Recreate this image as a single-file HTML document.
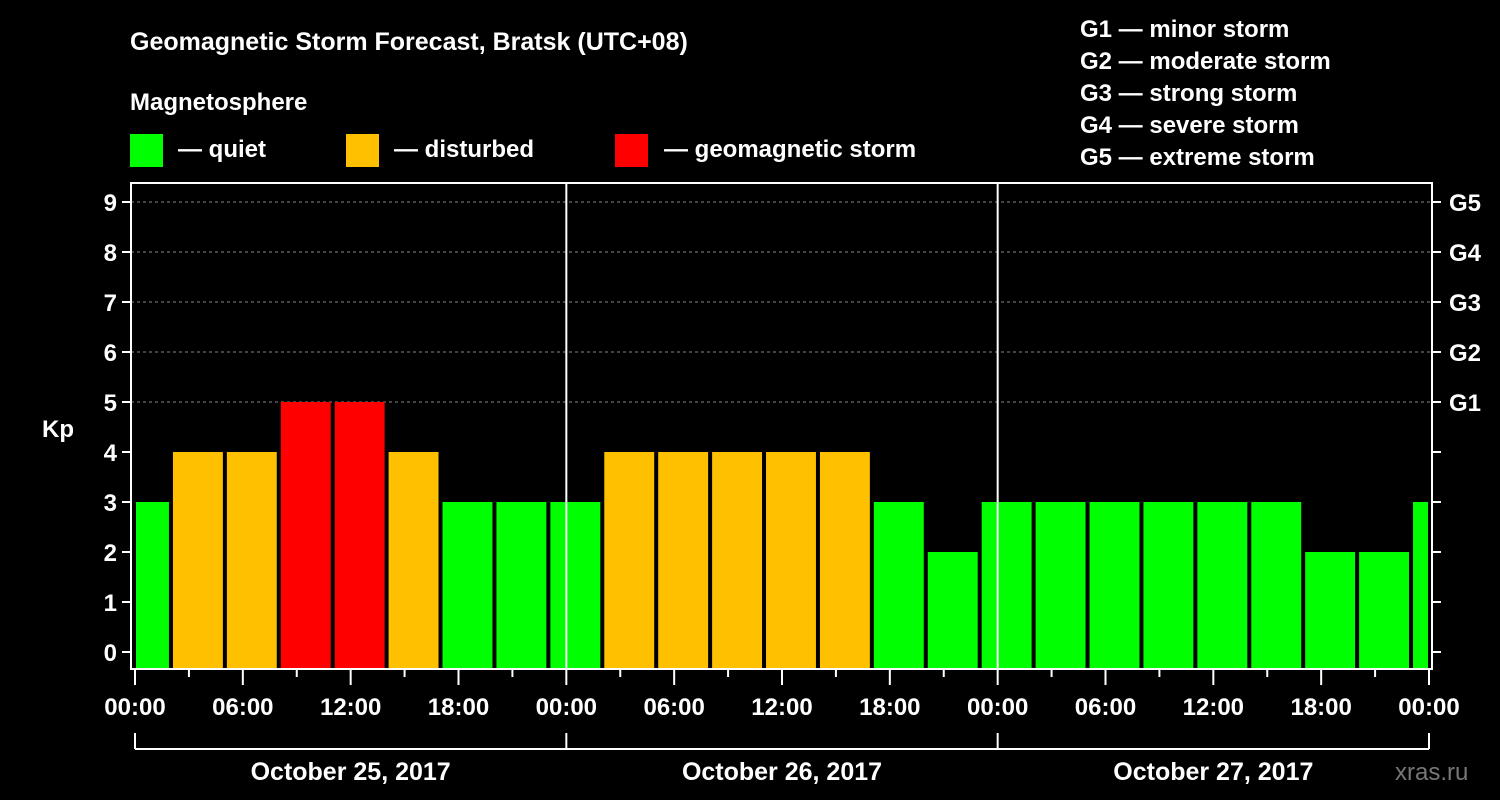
<!DOCTYPE html>
<html><head><meta charset="utf-8"><style>
html,body{margin:0;padding:0;background:#000;}
svg{display:block;font-family:"Liberation Sans",Arial,sans-serif;font-weight:bold;}
</style></head><body>
<svg id="chart" width="1500" height="800" viewBox="0 0 1500 800">
<rect x="0" y="0" width="1500" height="800" fill="#000"/>
<text x="130" y="50" fill="#fff" font-size="25">Geomagnetic Storm Forecast, Bratsk (UTC+08)</text>
<text x="130" y="110" fill="#fff" font-size="24">Magnetosphere</text>
<g><rect x="130" y="134" width="33" height="33" fill="#00ff00"/><text x="178" y="157" fill="#fff" font-size="24">— quiet</text></g>
<g><rect x="346" y="134" width="33" height="33" fill="#ffc000"/><text x="394" y="157" fill="#fff" font-size="24">— disturbed</text></g>
<g><rect x="615" y="134" width="33" height="33" fill="#ff0000"/><text x="664" y="157" fill="#fff" font-size="24">— geomagnetic storm</text></g>
<g fill="#fff" font-size="24">
<text x="1080" y="37">G1 — minor storm</text>
<text x="1080" y="69">G2 — moderate storm</text>
<text x="1080" y="101">G3 — strong storm</text>
<text x="1080" y="133">G4 — severe storm</text>
<text x="1080" y="165">G5 — extreme storm</text>
</g>
<text x="1395" y="780" fill="#777" font-size="24" font-weight="normal">xras.ru</text>
<g id="grid"></g>
<g id="bars"></g>
<g id="axes"></g>
</svg>
<script>
const kpValues = [3,4,4,5,5,4,3,3,3,4,4,4,4,4,3,2,3,3,3,3,3,3,2,2,3];
const barStartHours = [-1,2,5,8,11,14,17,20,23,26,29,32,35,38,41,44,47,50,53,56,59,62,65,68,71];
const yTicks = [0,1,2,3,4,5,6,7,8,9];
const gLabels = {5:"G1",6:"G2",7:"G3",8:"G4",9:"G5"};
const xTickLabels = ["00:00","06:00","12:00","18:00","00:00","06:00","12:00","18:00","00:00","06:00","12:00","18:00","00:00"];
const dayLabels = ["October 25, 2017","October 26, 2017","October 27, 2017"];

const NS="http://www.w3.org/2000/svg";
const L=131,R=1432,T=183,B=669,X0=135,X1=1429;
const xs=h=>X0+(X1-X0)*h/72;
const ys=v=>652-50*v;
function mk(tag,attrs,parent,text){const e=document.createElementNS(NS,tag);for(const k in attrs)e.setAttribute(k,attrs[k]);if(text!==undefined)e.textContent=text;parent.appendChild(e);return e;}
const grid=document.getElementById('grid'),bars=document.getElementById('bars'),axes=document.getElementById('axes');
// gridlines
yTicks.forEach(v=>{if(v>=5){const g=mk('line',{x1:L,x2:R,y1:ys(v),y2:ys(v),stroke:'#888','stroke-dasharray':'3,3','stroke-width':1},grid);

}});
// bars
kpValues.forEach((v,i)=>{
 let x1=xs(barStartHours[i])+2,x2=xs(barStartHours[i]+3)-2;
 x1=Math.max(x1,X0+1);x2=Math.min(x2,X1-1);
 const col=v>=5?'#ff0000':(v>=4?'#ffc000':'#00ff00');
 const r=mk('rect',{x:x1,y:ys(v),width:x2-x1,height:B-1-ys(v),fill:col},bars);
 
 
});
// day separators
[24,48].forEach(h=>{const l=mk('line',{x1:xs(h),x2:xs(h),y1:T,y2:B,stroke:'#fff','stroke-width':2},axes);

});
// frame
const fr=mk('rect',{x:L,y:T,width:R-L,height:B-T,fill:'none',stroke:'#fff','stroke-width':2},axes);


// y ticks
yTicks.forEach(v=>{
 mk('line',{x1:L-9,x2:L,y1:ys(v),y2:ys(v),stroke:'#fff','stroke-width':2},axes);
 mk('line',{x1:R,x2:R+9,y1:ys(v),y2:ys(v),stroke:'#fff','stroke-width':2},axes);
 const t=mk('text',{x:L-14,y:ys(v)+9,fill:'#fff','font-size':24,'text-anchor':'end'},axes,String(v));
 
 
 if(gLabels[v]){const g=mk('text',{x:R+17,y:ys(v)+9,fill:'#fff','font-size':24},axes,gLabels[v]);
 
 }
});
const kp=mk('text',{x:42,y:437,fill:'#fff','font-size':24},axes,'Kp');


// x ticks
for(let h=0;h<=72;h+=3){const maj=h%6===0;mk('line',{x1:xs(h),x2:xs(h),y1:B,y2:B+(maj?16:8),stroke:'#fff','stroke-width':2},axes);}
xTickLabels.forEach((s,i)=>{const t=mk('text',{x:xs(i*6),y:715,fill:'#fff','font-size':24,'text-anchor':'middle'},axes,s);

});
// day bracket
mk('line',{x1:X0,x2:X1,y1:749,y2:749,stroke:'#fff','stroke-width':2},axes);
[0,24,48,72].forEach(h=>mk('line',{x1:xs(h),x2:xs(h),y1:733,y2:749,stroke:'#fff','stroke-width':2},axes));
dayLabels.forEach((s,i)=>{const t=mk('text',{x:xs(i*24+12),y:780,fill:'#fff','font-size':25,'text-anchor':'middle'},axes,s);

});
</script>
</body></html>
